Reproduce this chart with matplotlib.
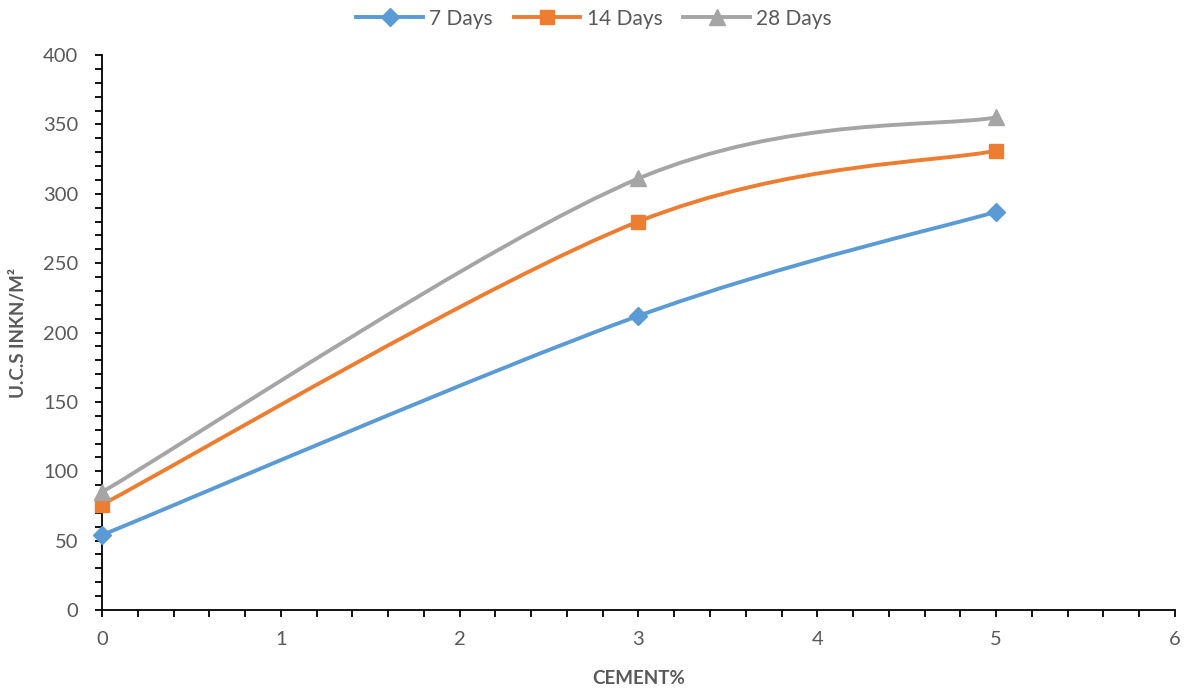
import numpy as np
import matplotlib.pyplot as plt
from matplotlib.path import Path
from matplotlib.patches import PathPatch
from matplotlib.lines import Line2D
from matplotlib.ticker import MultipleLocator

plt.rcParams['font.family'] = ['Lato', 'DejaVu Sans']

cement = [0, 3, 5]
days_7 = [54, 212, 287]
days_14 = [76, 280, 331]
days_28 = [85, 311, 355]

series = [
    ('7 Days', days_7, '#5B9BD5', 'D', 9.5),
    ('14 Days', days_14, '#ED7D31', 's', 10.5),
    ('28 Days', days_28, '#A5A5A5', '^', 11.5),
]


def smooth_path(xs, ys):
    # cardinal spline as cubic bezier segments (like spreadsheet "smoothed line")
    pts = np.column_stack([xs, ys]).astype(float)
    n = len(pts)
    verts = [pts[0]]
    codes = [Path.MOVETO]
    for i in range(n - 1):
        p0 = pts[i - 1] if i > 0 else pts[i]
        p1 = pts[i]
        p2 = pts[i + 1]
        p3 = pts[i + 2] if i + 2 < n else pts[i + 1]
        c1 = p1 + (p2 - p0) / 6.0
        c2 = p2 - (p3 - p1) / 6.0
        verts += [c1, c2, p2]
        codes += [Path.CURVE4] * 3
    return Path(verts, codes)


fig = plt.figure(figsize=(11.88, 6.92), dpi=100)
ax = fig.add_axes([0.0859, 0.1185, 0.9031, 0.802])

handles = []
for name, vals, col, mk, ms in series:
    patch = PathPatch(smooth_path(cement, vals), facecolor='none', edgecolor=col,
                      lw=2.8, capstyle='round', joinstyle='round', zorder=2,
                      clip_on=False)
    ax.add_patch(patch)
    ax.plot(cement, vals, linestyle='none', marker=mk, markersize=ms,
            color=col, markeredgecolor=col, zorder=3, clip_on=False)
    handles.append(Line2D([], [], color=col, lw=2.8, marker=mk, markersize=ms,
                          markeredgecolor=col, label=name))

ax.set_xlim(0, 6)
ax.set_ylim(0, 400)
ax.xaxis.set_major_locator(MultipleLocator(1))
ax.xaxis.set_minor_locator(MultipleLocator(0.2))
ax.yaxis.set_major_locator(MultipleLocator(50))
ax.yaxis.set_minor_locator(MultipleLocator(10))

for s in ['top', 'right']:
    ax.spines[s].set_visible(False)
for s in ['left', 'bottom']:
    ax.spines[s].set_linewidth(1.3)
    ax.spines[s].set_color('black')

ax.tick_params(which='both', direction='out', length=5, width=1.3, color='black',
               labelcolor='#595959', labelsize=14.5)
ax.tick_params(axis='x', pad=10)
ax.tick_params(axis='y', pad=12)

ax.set_xlabel('CEMENT%', fontsize=13.5, fontweight='bold', color='#595959', labelpad=16)
ax.set_ylabel('U.C.S INKN/M²', fontsize=13.5, fontweight='bold', color='#595959', labelpad=12)

fig.legend(handles=handles, loc='center', bbox_to_anchor=(0.5, 0.973), ncol=3,
           frameon=False, fontsize=15, handlelength=3.2, columnspacing=1.0,
           handletextpad=0.3, labelcolor='#595959')

fig.savefig('out.png', dpi=100)
